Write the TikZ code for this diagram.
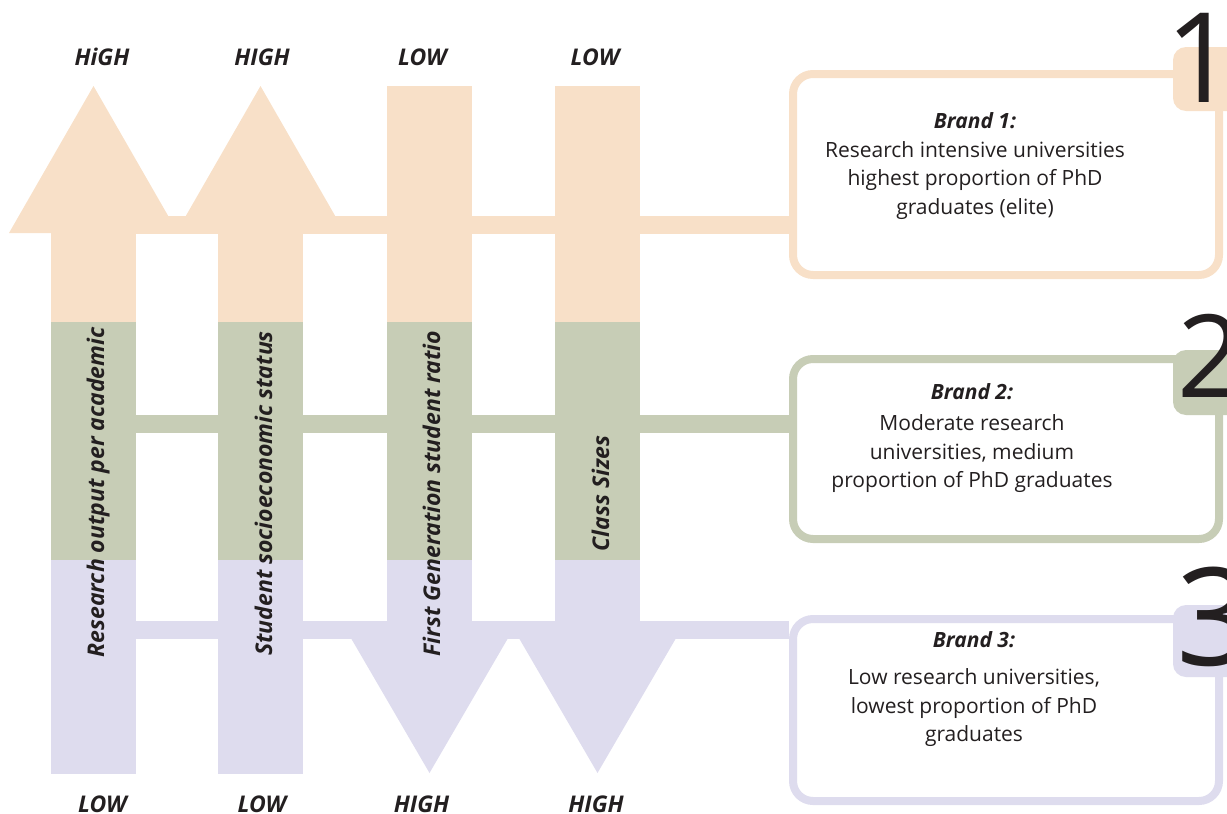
\documentclass[tikz,border=0pt]{standalone}
\usepackage{fontspec}
\setmainfont{Open Sans}
\definecolor{cor}{HTML}{F8E0C8}
\definecolor{cgr}{HTML}{C7CDB6}
\definecolor{clv}{HTML}{DEDCEE}
\definecolor{ink}{HTML}{231F20}
\tikzset{
  ofill/.style={fill=cor},
  gfill/.style={fill=cgr},
  lfill/.style={fill=clv},
  barline/.style={line width=18pt},
  brandbox/.style={draw, line width=8pt, fill=white, rounded corners=20pt, inner sep=0pt},
  tabbox/.style={rounded corners=13pt, inner sep=0pt, minimum width=90pt},
  digit/.style={anchor=base, inner sep=0pt, text=ink},
  lbl/.style={anchor=base, inner sep=0pt, text=ink, font=\fontsize{23}{26}\selectfont\bfseries\itshape},
  vlbl/.style={anchor=base, rotate=90, inner sep=0pt, text=ink, font=\fontsize{23}{26}\selectfont\bfseries\itshape},
  body/.style={anchor=base, align=center, inner sep=0pt, text=ink, font=\fontsize{21}{28.4}\selectfont},
}
\begin{document}
\begin{tikzpicture}[x=1pt,y=-1pt]
\useasboundingbox (0,0) rectangle (1227,814);
\clip (0,0) rectangle (1227,814);
% orange part
\fill[ofill] (9,233) -- (93.5,86) -- (178,233) -- cycle;
\fill[ofill] (176,233) -- (260.5,86) -- (345,233) -- cycle;
\fill[ofill] (51,230) rectangle (136,322);
\fill[ofill] (218,230) rectangle (303,322);
\fill[ofill] (387,86) rectangle (472,322);
\fill[ofill] (555,86) rectangle (640,322);
% green part
\fill[gfill] (51,322) rectangle (136,560);
\fill[gfill] (218,322) rectangle (303,560);
\fill[gfill] (387,322) rectangle (472,560);
\fill[gfill] (555,322) rectangle (640,560);
% lavender part
\fill[lfill] (51,560) rectangle (136,774);
\fill[lfill] (218,560) rectangle (303,774);
\fill[lfill] (387,560) rectangle (472,625);
\fill[lfill] (555,560) rectangle (640,625);
\fill[lfill] (341,621) -- (429.5,773) -- (518,621) -- cycle;
\fill[lfill] (509,621) -- (597.5,773) -- (686,621) -- cycle;
% brand boxes
\node[brandbox, draw=cor, minimum width=426pt, minimum height=201pt] (b1) at (1006,174.5) {};
\node[brandbox, draw=cgr, minimum width=426pt, minimum height=180pt] (b2) at (1006,449) {};
\node[brandbox, draw=clv, minimum width=426pt, minimum height=182pt] (b3) at (1006,710) {};
% bars
\coordinate (c1) at (93,225);
\coordinate (c2) at (93,424);
\coordinate (c3) at (93,630);
\draw[barline, draw=cor] (c1) -- (c1 -| b1.west);
\draw[barline, draw=cgr] (c2) -- (c2 -| b2.west);
\draw[barline, draw=clv] (c3) -- (c3 -| b3.west);
% tabs
\node[tabbox, fill=cor, minimum height=64pt] (t1) at (1218,79) {};
\node[tabbox, fill=cgr, minimum height=65pt] (t2) at (1218,382.5) {};
\node[tabbox, fill=clv, minimum height=72pt] (t3) at (1218,641) {};
\node[digit, font=\fontsize{125}{125}\selectfont] (d1) at (1201.5,102) {1};
\node[digit, font=\fontsize{115}{115}\selectfont] (d2) at (1210,397) {2};
\node[digit, font=\fontsize{136}{136}\selectfont] (d3) at (1215,665) {3};
% box texts (anchor base = last line baseline)
\node[body] (x1) at (975,214) {\textbf{\textit{Brand 1:}}\\[0.6pt]Research intensive universities\\highest proportion of PhD\\graduates (elite)};
\node[body] (x2) at (972,487.5) {\textbf{\textit{Brand 2:}}\\[2.6pt]Moderate research\\universities, medium\\proportion of PhD graduates};
\node[body] (x3) at (974,741.5) {\textbf{\textit{Brand 3:}}\\[8.6pt]Low research universities,\\lowest proportion of PhD\\graduates};
% top / bottom labels
\node[lbl] (h1) at (102,65) {HiGH};
\node[lbl] (h2) at (262,65) {HIGH};
\node[lbl] (h3) at (422.5,65) {LOW};
\node[lbl] (h4) at (595,65) {LOW};
\node[lbl] (l1) at (102.5,812) {LOW};
\node[lbl] (l2) at (262,812) {LOW};
\node[lbl] (l3) at (421.5,812) {HIGH};
\node[lbl] (l4) at (596,812) {HIGH};
% vertical labels
\node[vlbl] (v1) at (104,492.5) {Research output per academic};
\node[vlbl] (v2) at (272,493.5) {Student socioeconomic status};
\node[vlbl] (v3) at (440,493.5) {First Generation student ratio};
\node[vlbl] (v4) at (609,493.5) {Class Sizes};
\end{tikzpicture}
\end{document}
